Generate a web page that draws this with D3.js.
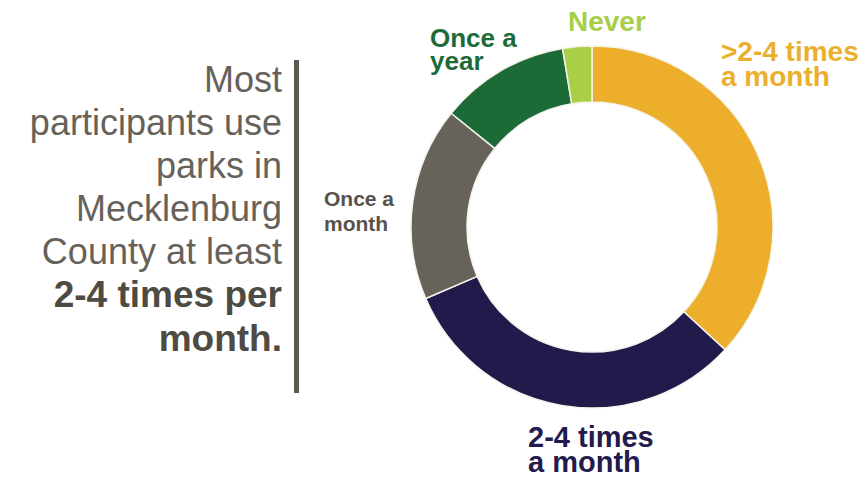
<!DOCTYPE html>
<html>
<head>
<meta charset="utf-8">
<script src="https://cdn.jsdelivr.net/npm/d3@7"></script>
<style>
  body { margin: 0; background: #fff; }
  svg text { font-family: "Liberation Sans", Arial, sans-serif; }
</style>
</head>
<body>
<div id="chart"></div>
<script>
var svgW = 866;
var svgH = 477;

// data (share of participants, %)
var categories = [">2-4 times a month", "2-4 times a month", "Once a month", "Once a year", "Never"];
var values = [36.9, 31.7, 17.3, 11.6, 2.6];
var colors = ["#ECAE2B", "#211A4B", "#67625A", "#1C6B37", "#A8CF46"];
var labelColors = ["#EBAF2E", "#221B4C", "#57534B", "#1D6B38", "#A6CE48"];
var labelLines = [[">2-4 times", "a month"], ["2-4 times", "a month"], ["Once a", "month"], ["Once a", "year"], ["Never"]];
var headline = ["Most", "participants use", "parks in", "Mecklenburg", "County at least"];
var headlineBold = ["2-4 times per", "month."];

// label placement (layout only)
var labelPos = [
  { x: 721, y: 61, size: 28, lh: 25 },
  { x: 528, y: 447, size: 29, lh: 25 },
  { x: 324, y: 206, size: 21, lh: 25 },
  { x: 430, y: 47, size: 26, lh: 23 },
  { x: 568, y: 31, size: 28, lh: 25 }
];

var cx = 592, cy = 227;
var outerR = 181, innerR = 125;

var svg = d3.select("#chart")
  .append("svg")
  .attr("width", svgW)
  .attr("height", svgH);

// headline text on the left
var head = svg.append("g");
head.selectAll("text.reg")
  .data(headline)
  .enter()
  .append("text")
  .attr("class", "reg")
  .attr("x", 282)
  .attr("y", (d, i) => 92 + i * 43)
  .attr("text-anchor", "end")
  .attr("font-size", 36)
  .attr("fill", "#66625A")
  .text(d => d);

head.selectAll("text.bold")
  .data(headlineBold)
  .enter()
  .append("text")
  .attr("class", "bold")
  .attr("x", 282)
  .attr("y", (d, i) => 307 + i * 44)
  .attr("text-anchor", "end")
  .attr("font-size", 37)
  .attr("font-weight", "bold")
  .attr("fill", "#4E4B43")
  .text(d => d);

svg.append("rect")
  .attr("x", 294)
  .attr("y", 60)
  .attr("width", 5)
  .attr("height", 333)
  .attr("fill", "#5E5B50");

// donut
var pie = d3.pie().sort(null).value(d => d);
var arc = d3.arc().innerRadius(innerR).outerRadius(outerR);

var donut = svg.append("g")
  .attr("transform", `translate(${cx}, ${cy})`);

donut.selectAll("path")
  .data(pie(values))
  .enter()
  .append("path")
  .attr("d", arc)
  .attr("fill", (d, i) => colors[i])
  .attr("stroke", "#F4F4EC")
  .attr("stroke-width", 1.5);

// segment labels
var labels = svg.selectAll("text.seg")
  .data(categories)
  .enter()
  .append("text")
  .attr("class", "seg")
  .attr("x", (d, i) => labelPos[i].x)
  .attr("y", (d, i) => labelPos[i].y)
  .attr("font-size", (d, i) => labelPos[i].size)
  .attr("font-weight", "bold")
  .attr("fill", (d, i) => labelColors[i]);

labels.each(function(d, i) {
  var t = d3.select(this);
  labelLines[i].forEach((line, j) => {
    t.append("tspan")
      .attr("x", labelPos[i].x)
      .attr("dy", j === 0 ? 0 : labelPos[i].lh)
      .text(line);
  });
});
</script>
</body>
</html>
